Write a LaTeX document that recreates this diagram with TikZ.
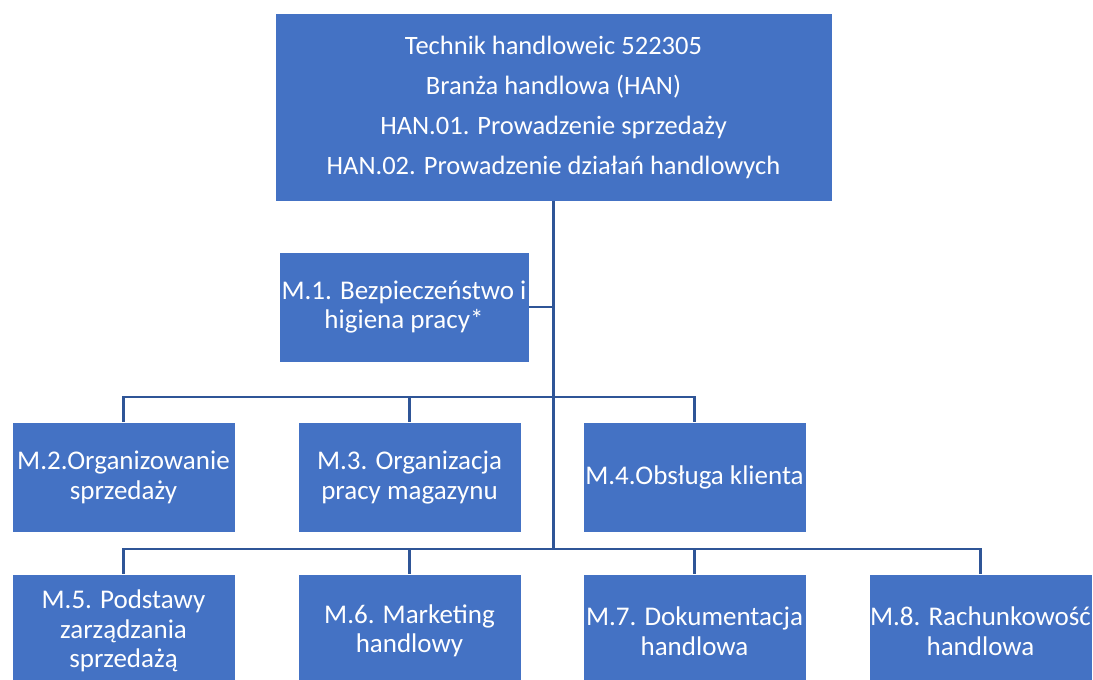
\documentclass[tikz,border=0pt]{standalone}
\usepackage{fontspec}
\setmainfont{Carlito}
\usepackage{xcolor}
\usetikzlibrary{positioning, calc}
\definecolor{boxblue}{HTML}{4472C4}
\definecolor{lineblue}{HTML}{2F5597}

\begin{document}
\begin{tikzpicture}[x=1pt, y=-1pt,
  modbox/.style={fill=boxblue, draw=white, line width=0.6pt, text=white, align=center,
    minimum width=223pt, minimum height=110pt, inner sep=1pt,
    font=\fontsize{27}{29.5}\selectfont},
  link/.style={draw=lineblue, line width=2.6pt}]
\useasboundingbox (0,0) rectangle (1093,680);
\node[modbox, minimum width=557pt, minimum height=188pt, font=\fontsize{26.5}{40}\selectfont] (top) at (553.5,107)
  {Technik handloweic 522305\\Branża handlowa (HAN)\\HAN.01. Prowadzenie sprzedaży\\HAN.02. Prowadzenie działań handlowych};
\node[modbox, minimum width=250pt] (m1) at (404,307) {M.1. Bezpieczeństwo i\\higiena pracy*};
\node[modbox] (m2) at (123.5,477.5) {M.2.Organizowanie\\sprzedaży};
\node[modbox] (m3) at (409.5,477.5) {M.3. Organizacja\\pracy magazynu};
\node[modbox] (m4) at (694.5,477.5) {M.4.Obsługa klienta};
\node[modbox, minimum height=114pt] (m5) at (123.5,631) {M.5. Podstawy\\zarządzania\\sprzedażą};
\node[modbox, minimum height=114pt] (m6) at (409.5,631) {M.6. Marketing\\handlowy};
\node[modbox, minimum height=114pt] (m7) at (694.5,631) {M.7. Dokumentacja\\handlowa};
\node[modbox, minimum height=114pt] (m8) at (980.5,631) {M.8. Rachunkowość\\handlowa};
\coordinate (bus1) at (553.5,397);
\coordinate (bus2) at (553.5,549);
\draw[link] (top.south) -- (bus2);
\draw[link] (m1.east) -- (m1.east -| bus1);
\draw[link] (m2.north) |- (bus1) -| (m4.north);
\draw[link] (m3.north) -- (m3.north |- bus1);
\draw[link] (m5.north) |- (bus2) -| (m8.north);
\draw[link] (m6.north) -- (m6.north |- bus2);
\draw[link] (m7.north) -- (m7.north |- bus2);
\end{tikzpicture}
\end{document}
